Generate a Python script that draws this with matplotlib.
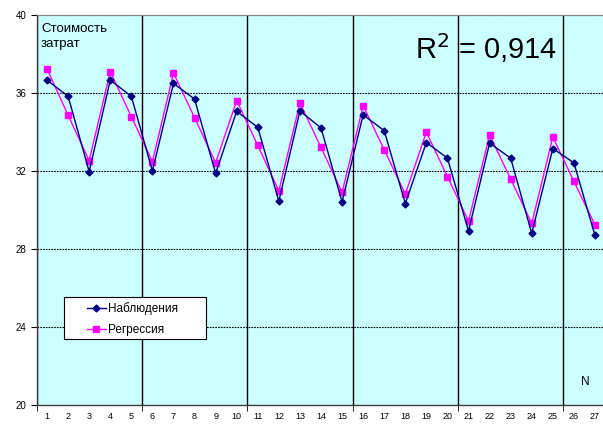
import matplotlib
matplotlib.use('Agg')
import matplotlib.pyplot as plt
from matplotlib.patches import Rectangle
import numpy as np

plt.rcParams['font.family'] = ['Liberation Sans', 'DejaVu Sans']

n = list(range(1, 28))
nabl = [36.66, 35.83, 31.97, 36.66, 35.83, 32.0, 36.49, 35.69, 31.88, 35.06,
        34.24, 30.45, 35.08, 34.21, 30.42, 34.88, 34.07, 30.33, 33.46, 32.66,
        28.92, 33.43, 32.66, 28.80, 33.15, 32.42, 28.70]
regr = [37.23, 34.86, 32.53, 37.10, 34.79, 32.48, 37.02, 34.74, 32.42, 35.61,
        33.31, 30.98, 35.49, 33.21, 30.90, 35.35, 33.09, 30.82, 33.99, 31.71,
        29.43, 33.85, 31.59, 29.31, 33.74, 31.47, 29.24]
yticks = [20, 24, 28, 32, 36, 40]

W, H = 603, 424
fig = plt.figure(figsize=(6.03, 4.24), dpi=100)
ax = fig.add_axes([36.5/W, 19/H, 569/W, 390/H])
ax.set_facecolor('#ccffff')

ax.plot(n, nabl, color='#000080', lw=1, marker='D', ms=3.5, label='Наблюдения', zorder=4)
ax.plot(n, regr, color='#ff00ff', lw=1, marker='s', ms=5, label='Регрессия', zorder=3)

ax.set_xlim(0.5, 27.5)
ax.set_ylim(20, 40)
ax.set_yticks(yticks)
ax.set_xticks(n)
ax.set_xticks(np.arange(0.5, 27, 5), minor=True)
ax.tick_params(axis='x', which='major', length=0, labelsize=6.5, pad=5)
ax.tick_params(axis='x', which='minor', length=4, direction='out', color='black')
ax.tick_params(axis='y', length=4, labelsize=7, pad=3)

ax.grid(axis='x', which='minor', color='black', lw=1, zorder=1)
ax.grid(axis='y', which='major', color='black', lw=0.8, ls=(0, (1.5, 1)), zorder=1)
ax.set_axisbelow(True)

for s in ['left', 'bottom']:
    ax.spines[s].set_color('#404040')
    ax.spines[s].set_linewidth(1)
ax.spines['top'].set_color('#808080')
ax.spines['right'].set_visible(False)

ax.text(41/W, 1-23/H, 'Стоимость\nзатрат', transform=fig.transFigure,
        fontsize=9.5, va='top', ha='left', linespacing=1.3)
ax.text(0.79, 0.915, 'R$^2$ = 0,914', transform=ax.transAxes,
        fontsize=21, va='center', ha='center')
ax.text(0.965, 0.06, 'N', transform=ax.transAxes, fontsize=8.5, ha='center', va='center')

# legend box
ax.add_patch(Rectangle((64/W, 1-339/H), 142/W, 42/H, transform=fig.transFigure,
                       facecolor='white', edgecolor='black', lw=0.8, zorder=6))
leg = ax.legend(loc='upper left', bbox_to_anchor=(87/W, 1-302/H),
                bbox_transform=fig.transFigure, fontsize=8.5, frameon=False,
                handlelength=1.6, handletextpad=0.2, borderpad=0,
                labelspacing=0.8, borderaxespad=0)
leg.set_zorder(7)

fig.savefig('out.png', dpi=100)
